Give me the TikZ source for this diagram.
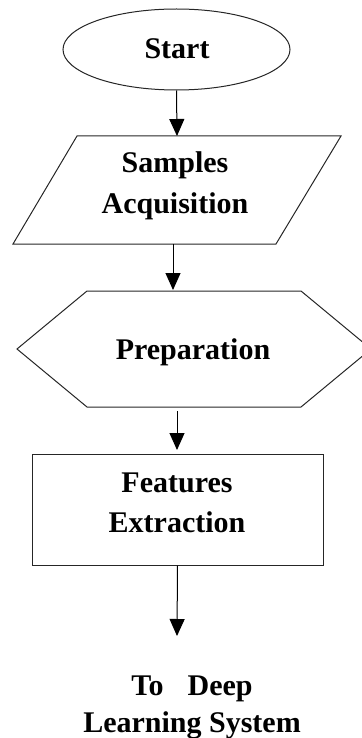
\documentclass[tikz,border=0pt]{standalone}
\usepackage{fontspec}
\setmainfont{Liberation Serif}
\usetikzlibrary{arrows.meta,shapes.geometric}
\begin{document}
\begin{tikzpicture}[x=1pt,y=-1pt,
  shapeline/.style={draw=black!85,line width=1pt},
  lbl/.style={font=\bfseries\fontsize{30}{40}\selectfont,align=center,inner sep=0pt,anchor=base},
  arr/.style={line width=1pt,-{Triangle[width=15pt,length=17pt]}}]
\useasboundingbox (0,0) rectangle (361,738);
% shapes
\node[ellipse,shapeline,minimum width=227pt,minimum height=81pt,inner sep=0pt] (start) at (176.5,49.5) {};
\node[lbl] (starttxt) at (177,59) {Start};
\draw[shapeline] (77,136) -- (341,136) -- (276,244) -- (13,244) -- cycle;
\coordinate (sampTop) at (177,136);
\coordinate (sampBot) at (173,244);
\node[lbl] (samp) at (175,213) {Samples\\Acquisition};
\draw[shapeline] (17,349) -- (87,291) -- (301,291) -- (371,349) -- (301,407) -- (87,407) -- cycle;
\coordinate (prepTop) at (173,290);
\coordinate (prepBot) at (177,411);
\node[lbl] (prep) at (193,359) {Preparation};
\node[rectangle,shapeline,minimum width=291pt,minimum height=111pt,inner sep=0pt] (featbox) at (177.5,509.5) {};
\node[lbl] (feat) at (177,532) {Features\\Extraction};
\coordinate (featTop) at (177,450);
\coordinate (outTop) at (177,636);
\node[lbl,font=\bfseries\fontsize{30}{37}\selectfont] (out) at (192,732) {To\hspace{24pt}Deep\\Learning System};
% connectors
\draw[arr] (start.south) -- (sampTop);
\draw[arr] (sampBot) -- (prepTop);
\draw[arr] (prepBot) -- (featTop);
\draw[arr] (featbox.south) -- (outTop);
\end{tikzpicture}
\end{document}
